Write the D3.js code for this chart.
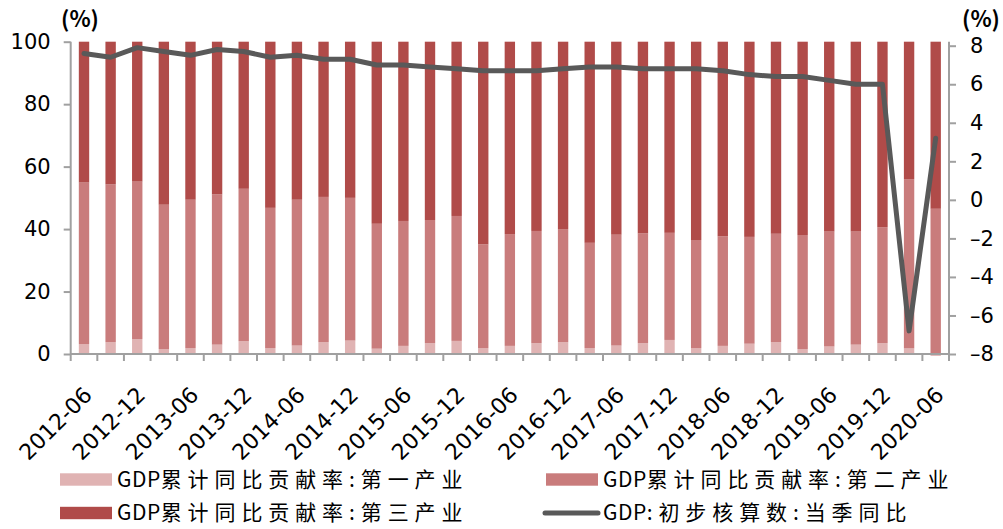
<!DOCTYPE html>
<html>
<head>
<meta charset="utf-8">
<script src="https://cdn.jsdelivr.net/npm/d3@7"></script>
<style>
  html, body { margin: 0; padding: 0; background: #fff; }
  svg { display: block; }
</style>
</head>
<body>
<svg id="chart" width="1003" height="529"></svg>
<script>
// Quarter labels (cumulative contribution by industry, quarterly GDP growth)
const quarters = [
  "2012-06","2012-09","2012-12","2013-03","2013-06","2013-09","2013-12",
  "2014-03","2014-06","2014-09","2014-12","2015-03","2015-06","2015-09","2015-12",
  "2016-03","2016-06","2016-09","2016-12","2017-03","2017-06","2017-09","2017-12",
  "2018-03","2018-06","2018-09","2018-12","2019-03","2019-06","2019-09","2019-12",
  "2020-03","2020-06"
];

// Contribution rate, primary industry (%)
const primary = [
  3.2, 3.8, 4.8, 1.6, 1.9, 3.0, 4.1, 1.9, 2.7, 3.8, 4.3,
  1.7, 2.6, 3.5, 4.2, 1.9, 2.6, 3.5, 3.8, 1.9, 2.7, 3.5,
  4.5, 1.9, 2.6, 3.3, 3.8, 1.6, 2.4, 3.0, 3.5, 1.8, -0.6
];

// Contribution rate, secondary industry (%)
const secondary = [
  51.7, 50.5, 50.4, 46.2, 47.5, 48.1, 48.8, 44.9, 46.7, 46.5, 45.7,
  40.0, 40.0, 39.4, 40.0, 33.2, 35.8, 35.9, 36.2, 33.7, 35.5, 35.1,
  34.3, 34.6, 35.1, 34.2, 34.7, 36.5, 36.8, 36.2, 37.1, 54.2, 46.5
];

// Contribution rate, tertiary industry (%)
const tertiary = [
  45.1, 45.7, 44.8, 52.2, 50.6, 48.9, 47.1, 53.2, 50.6, 49.7, 50.0,
  58.3, 57.4, 57.1, 55.8, 64.9, 61.6, 60.6, 60.0, 64.4, 61.8, 61.4,
  61.2, 63.5, 62.3, 62.5, 61.5, 61.9, 60.8, 60.8, 59.4, 44.0, 53.5
];

// GDP preliminary accounting, quarterly year-on-year (%)
const gdpYoY = [
  7.6, 7.4, 7.9, 7.7, 7.5, 7.8, 7.7, 7.4, 7.5, 7.3, 7.3,
  7.0, 7.0, 6.9, 6.8, 6.7, 6.7, 6.7, 6.8, 6.9, 6.9, 6.8,
  6.8, 6.8, 6.7, 6.5, 6.4, 6.4, 6.2, 6.0, 6.0, -6.8, 3.2
];

const leftTicks = [0, 20, 40, 60, 80, 100];
const rightTicks = [-8, -6, -4, -2, 0, 2, 4, 6, 8];

// Legend names, split into the Latin prefix and the Chinese remainder
const seriesPrefix = ["GDP", "GDP", "GDP", "GDP"];
const seriesRest = [
  "累计同比贡献率:第一产业",
  "累计同比贡献率:第二产业",
  "累计同比贡献率:第三产业",
  ":初步核算数:当季同比"
];
const barColors = ["#e0b3b3", "#c97c7c", "#b04b49"];
const lineColor = "#595959";
const axisColor = "#a0a0a0";

const svg = d3.select("#chart");
const plot = { left: 70.7, right: 949, top: 41.7, bottom: 354 };

const x = d3.scaleBand()
  .domain(quarters)
  .range([plot.left, plot.right])
  .paddingInner(0.61)
  .paddingOuter(0.305);

const yLeft = d3.scaleLinear().domain([0, 100]).range([plot.bottom, plot.top]);
const yRight = d3.scaleLinear().domain([-8, 8]).range([plot.bottom, 45.7]);

// Stacked bars
const rows = quarters.map((q, i) => ({ q, p1: primary[i], p2: secondary[i], p3: tertiary[i] }));
const stack = d3.stack().keys(["p1", "p2", "p3"]).offset(d3.stackOffsetDiverging);
const layers = stack(rows);

svg.append("g").selectAll("g")
  .data(layers)
  .join("g")
  .attr("fill", (d, i) => barColors[i])
  .selectAll("rect")
  .data(d => d)
  .join("rect")
  .attr("x", d => x(d.data.q))
  .attr("width", x.bandwidth())
  .attr("y", d => yLeft(Math.max(d[0], d[1])))
  .attr("height", d => Math.abs(yLeft(d[0]) - yLeft(d[1])));

// Left axis
const axisNumFont = "'DejaVu Sans', sans-serif";
const gL = svg.append("g").attr("transform", `translate(${plot.left},0)`)
  .call(d3.axisLeft(yLeft).tickValues(leftTicks).tickSize(7).tickPadding(13).tickFormat(d3.format("d")));
gL.select(".domain").remove();
gL.append("line").attr("x1", 0).attr("x2", 0).attr("y1", plot.top).attr("y2", plot.bottom)
  .attr("stroke", axisColor).attr("stroke-width", 2);
gL.selectAll(".tick line").attr("stroke", axisColor).attr("stroke-width", 2);
gL.selectAll(".tick text").attr("font-family", axisNumFont).attr("font-size", 21).attr("fill", "#000");

// Right axis
const gR = svg.append("g").attr("transform", `translate(${plot.right},0)`)
  .call(d3.axisRight(yRight).tickValues(rightTicks).tickSize(7).tickPadding(14)
    .tickFormat(d => d < 0 ? "\u2013" + Math.abs(d) : String(d)));
gR.select(".domain").remove();
gR.append("line").attr("x1", 0).attr("x2", 0).attr("y1", plot.top).attr("y2", plot.bottom)
  .attr("stroke", axisColor).attr("stroke-width", 2);
gR.selectAll(".tick line").attr("stroke", axisColor).attr("stroke-width", 2);
gR.selectAll(".tick text").attr("font-family", axisNumFont).attr("font-size", 21).attr("fill", "#000");

// Bottom axis: ticks at every band boundary, labels every half year
const gX = svg.append("g");
gX.append("line").attr("x1", plot.left).attr("x2", plot.right)
  .attr("y1", plot.bottom).attr("y2", plot.bottom)
  .attr("stroke", axisColor).attr("stroke-width", 2);
const bounds = d3.range(quarters.length + 1).map(i => plot.left + i * x.step());
gX.selectAll("line.tk").data(bounds).join("line").attr("class", "tk")
  .attr("x1", d => d).attr("x2", d => d)
  .attr("y1", plot.bottom).attr("y2", plot.bottom + 7)
  .attr("stroke", axisColor).attr("stroke-width", 2);
gX.selectAll("text").data(quarters.filter((q, i) => i % 2 === 0)).join("text")
  .attr("transform", d => `translate(${x(d) + x.bandwidth() / 2 + 4},${plot.bottom + 37}) rotate(-45)`)
  .attr("text-anchor", "end")
  .attr("dy", "0.35em")
  .attr("font-family", axisNumFont)
  .attr("font-size", 22)
  .attr("fill", "#000")
  .text(d => d);

// GDP line on the right axis
const line = d3.line()
  .x((d, i) => x(quarters[i]) + x.bandwidth() / 2)
  .y(d => yRight(d));
svg.append("path").datum(gdpYoY)
  .attr("d", line)
  .attr("fill", "none")
  .attr("stroke", lineColor)
  .attr("stroke-width", 5)
  .attr("stroke-linejoin", "round")
  .attr("stroke-linecap", "round");

// Unit labels
const unitFont = "'Noto Sans CJK SC', sans-serif";
[80, 981].forEach(cx => {
  svg.append("text").attr("x", cx).attr("y", 19).attr("dy", "0.35em")
    .attr("text-anchor", "middle").attr("font-family", unitFont)
    .attr("font-weight", "bold").attr("font-size", 22).text("(%)");
});

// Legend
const legendItems = [
  { i: 0, type: "rect", color: barColors[0], x: 60, y: 479.5 },
  { i: 1, type: "rect", color: barColors[1], x: 546, y: 479.5 },
  { i: 2, type: "rect", color: barColors[2], x: 60, y: 513 },
  { i: 3, type: "line", color: lineColor, x: 546, y: 513 }
];
const lg = svg.append("g");
legendItems.forEach(it => {
  if (it.type === "rect") {
    lg.append("rect").attr("x", it.x).attr("y", it.y - 6.2).attr("width", 52).attr("height", 12.4).attr("fill", it.color);
  } else {
    lg.append("line").attr("x1", it.x - 1).attr("x2", it.x + 52).attr("y1", it.y).attr("y2", it.y)
      .attr("stroke", it.color).attr("stroke-width", 5).attr("stroke-linecap", "round");
  }
  const t = lg.append("text").attr("x", it.x + 57).attr("y", it.y).attr("dy", "0.35em")
    .attr("font-family", unitFont).attr("font-size", 21).attr("fill", "#000");
  t.append("tspan").attr("letter-spacing", "0.5px").text(seriesPrefix[it.i]);
  t.append("tspan").attr("letter-spacing", "5.9px").text(seriesRest[it.i]);
});
</script>
</body>
</html>
